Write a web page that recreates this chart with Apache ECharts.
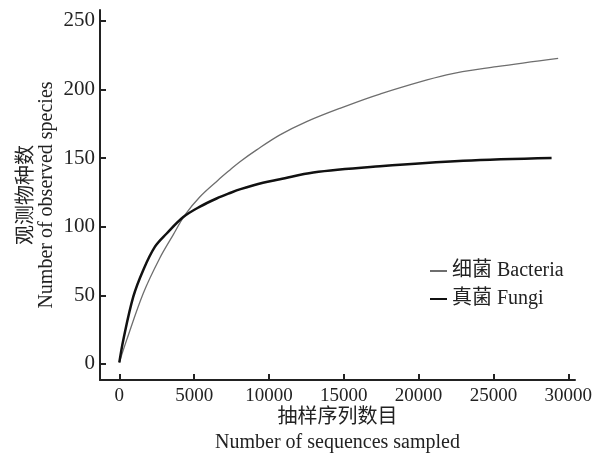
<!DOCTYPE html>
<html>
<head>
    <meta charset="utf-8">
    <script src="https://cdn.jsdelivr.net/npm/echarts@6/dist/echarts.min.js"></script>
    <title>Rarefaction curves</title>
    <style>
        html, body { margin: 0; padding: 0; background: #fff; }
        #main { width: 606px; height: 453px; }
    </style>
</head>

<body>
    <div id="main"></div>

    <script type="text/javascript">
        // values: [sequences sampled, observed species]
        var bacteria = [
            [0, 1], [494, 17.5], [1603, 51.5], [2700, 77], [3600, 94], [4389, 108.5],
            [5390, 121.8], [6613, 134], [7395, 141.3], [8063, 147.3], [9178, 155.9],
            [10735, 166.8], [12515, 176.5], [14743, 186.2], [17415, 196.6], [21870, 210.5],
            [25210, 216.5], [29325, 222.6]
        ];
        var fungi = [
            [0, 1], [267, 17.5], [935, 49], [1603, 68.5], [2385, 85.4], [3166, 95],
            [4275, 107], [5390, 114.6], [6500, 120.5], [7400, 124.5], [8100, 127.3],
            [9600, 132], [10735, 134.5], [12960, 139.5], [17415, 144], [22980, 148], [28885, 150]
        ];
        var xTicks = [0, 5000, 10000, 15000, 20000, 25000, 30000];
        var yTicks = [0, 50, 100, 150, 200, 250];

        var font = '"Liberation Serif", "Noto Sans CJK SC", serif';
        var myChart = echarts.init(document.getElementById('main'));

        myChart.setOption({
            animation: false,
            textStyle: { fontFamily: font },
            grid: {
                left: 100,
                right: 31,
                top: 10,
                bottom: 73,
                outerBoundsMode: 'none'
            },
            legend: {
                left: 424,
                top: 256,
                orient: 'vertical',
                itemWidth: 17,
                itemHeight: 14,
                itemGap: 8,
                itemStyle: { opacity: 0 },
                textStyle: { fontFamily: font, fontSize: 20, color: '#222' },
                data: ['细菌 Bacteria', '真菌 Fungi']
            },
            xAxis: {
                type: 'value',
                min: -1290,
                max: 30450,
                name: '抽样序列数目\nNumber of sequences sampled',
                nameLocation: 'middle',
                nameGap: 25,
                nameMoveOverlap: false,
                nameTextStyle: { fontFamily: font, fontSize: 20, color: '#222', lineHeight: 25 },
                axisLine: { onZero: false, lineStyle: { color: '#222', width: 2 } },
                axisTick: { inside: true, length: 6, lineStyle: { width: 2, color: '#222' }, customValues: xTicks },
                axisLabel: {
                    customValues: xTicks, fontFamily: font, fontSize: 19, color: '#222', margin: 7,
                    formatter: function (v) { return String(v); }
                },
                splitLine: { show: false }
            },
            yAxis: {
                type: 'value',
                min: -11.7,
                max: 257.8,
                name: '观测物种数\nNumber of observed species',
                nameLocation: 'middle',
                nameRotate: 90,
                nameGap: 43,
                nameMoveOverlap: false,
                nameTextStyle: { fontFamily: font, fontSize: 20, color: '#222', lineHeight: 20 },
                axisLine: { onZero: false, lineStyle: { color: '#222', width: 2 } },
                axisTick: { inside: true, length: 6, lineStyle: { width: 2, color: '#222' }, customValues: yTicks },
                axisLabel: {
                    customValues: yTicks, fontFamily: font, fontSize: 21, color: '#222', margin: 5,
                    formatter: function (v) { return String(v); }
                },
                splitLine: { show: false }
            },
            series: [{
                name: '细菌 Bacteria',
                type: 'line',
                data: bacteria,
                smooth: 0.35,
                symbol: 'none',
                lineStyle: { color: '#6e6e6e', width: 1.3 },
                itemStyle: { color: '#6e6e6e' }
            }, {
                name: '真菌 Fungi',
                type: 'line',
                data: fungi,
                smooth: 0.35,
                symbol: 'none',
                lineStyle: { color: '#111', width: 2.5 },
                itemStyle: { color: '#111' }
            }]
        });
    </script>
</body>

</html>
